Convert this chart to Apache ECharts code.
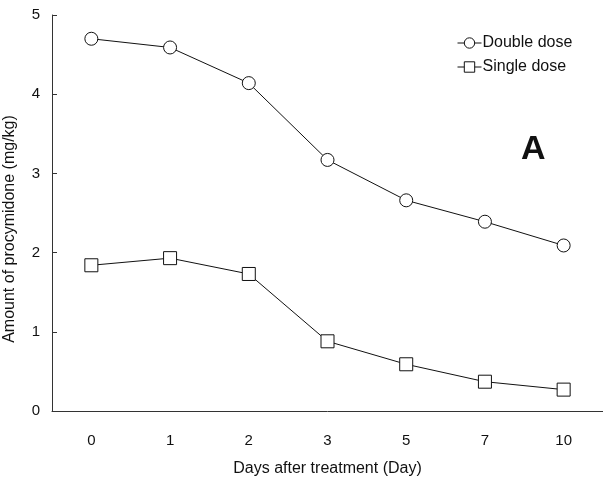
<!DOCTYPE html>
<html>
<head>
<meta charset="utf-8">
<script src="https://cdn.jsdelivr.net/npm/echarts@6/dist/echarts.min.js"></script>
<style>
  html, body { margin: 0; padding: 0; background: #fff; }
  #chart { width: 603px; height: 486px; }
</style>
</head>
<body>
<div id="chart"></div>
<script>
const days = ['0', '1', '2', '3', '5', '7', '10']
const doubleDose = [4.70, 4.59, 4.14, 3.17, 2.66, 2.39, 2.09]
const singleDose = [1.84, 1.93, 1.73, 0.88, 0.59, 0.37, 0.27]

const font = 'Liberation Sans, Arial, sans-serif'
const ink = '#111'

const chart = echarts.init(document.getElementById('chart'))

const option = {
  animation: false,
  backgroundColor: '#fff',
  grid: { left: 52, right: 0, top: 15, bottom: 75, outerBoundsMode: 'none', containLabel: false },
  legend: {
    orient: 'vertical',
    left: 452,
    top: 30,
    itemGap: 8,
    itemWidth: 24,
    itemHeight: 13,
    itemStyle: { borderWidth: 1 },
    lineStyle: { width: 1 },
    textStyle: { fontFamily: font, fontSize: 16, color: ink, padding: [0, 0, 0, -4] },
    data: ['Double dose', 'Single dose'],
  },
  graphic: [{
    type: 'text',
    left: 521,
    top: 133,
    style: { text: 'A', fontFamily: font, fontSize: 34, fontWeight: 'bold', fill: ink },
  }],
  xAxis: {
    type: 'category',
    data: days,
    boundaryGap: true,
    name: 'Days after treatment (Day)',
    nameLocation: 'middle',
    nameGap: 50,
    nameTextStyle: { fontFamily: font, fontSize: 16, color: ink },
    axisLine: { lineStyle: { color: '#333', width: 1 } },
    axisTick: { inside: true, length: 5, lineStyle: { color: '#333' } },
    axisLabel: { fontFamily: font, fontSize: 15, color: ink, margin: 22 },
  },
  yAxis: {
    type: 'value',
    min: 0,
    max: 5,
    interval: 1,
    name: 'Amount of procymidone (mg/kg)',
    nameLocation: 'middle',
    nameGap: 34,
    nameTextStyle: { fontFamily: font, fontSize: 16, color: ink, padding: [0, 0, 0, -32] },
    axisLine: { show: true, lineStyle: { color: '#333', width: 1 } },
    axisTick: { show: true, inside: true, length: 5, lineStyle: { color: '#333' } },
    axisLabel: { fontFamily: font, fontSize: 15, color: ink, margin: 12 },
    splitLine: { show: false },
  },
  series: [
    {
      name: 'Double dose',
      type: 'line',
      data: doubleDose,
      symbol: 'circle',
      symbolSize: 13,
      lineStyle: { color: ink, width: 1 },
      itemStyle: { color: '#fff', borderColor: ink, borderWidth: 1 },
    },
    {
      name: 'Single dose',
      type: 'line',
      data: singleDose,
      symbol: 'rect',
      symbolSize: 13,
      lineStyle: { color: ink, width: 1 },
      itemStyle: { color: '#fff', borderColor: ink, borderWidth: 1 },
    },
  ],
}

chart.setOption(option)
</script>
</body>
</html>
